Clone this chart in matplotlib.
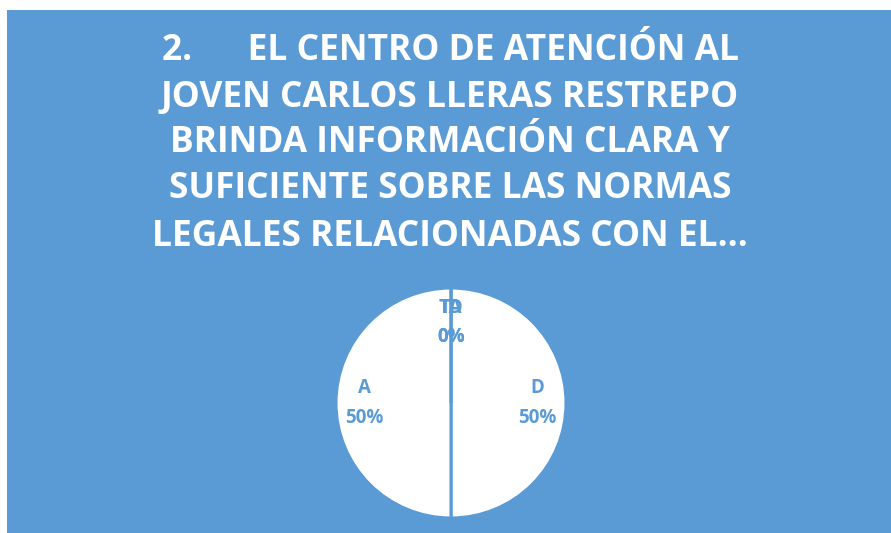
import matplotlib
matplotlib.use("Agg")
import matplotlib.pyplot as plt
from matplotlib.patches import Rectangle
import numpy as np

categories = ["TA", "D", "A", "TD"]
values = [0, 50, 50, 0]
title_lines = [
    "2.      EL CENTRO DE ATENCIÓN AL",
    "JOVEN CARLOS LLERAS RESTREPO",
    "BRINDA INFORMACIÓN CLARA Y",
    "SUFICIENTE SOBRE LAS NORMAS",
    "LEGALES RELACIONADAS CON EL…",
]

BLUE = "#5B9BD5"
W, H = 891, 533
fig = plt.figure(figsize=(W / 100, H / 100), dpi=100, facecolor="white")
fig.patches.append(Rectangle((7 / W, 0), (W - 7) / W, (H - 10) / H,
                             transform=fig.transFigure, facecolor=BLUE,
                             edgecolor="none", zorder=-5))

line_y = [47, 93, 139, 185, 232]
for t, y in zip(title_lines, line_y):
    fig.text(450 / W, 1 - y / H, t, ha="center", va="center_baseline", color="white",
             fontsize=25.5, fontweight="bold", family="Open Sans")

cx, cy, r = 451, 403, 115
ax = fig.add_axes([(cx - r) / W, (H - cy - r) / H, 2 * r / W, 2 * r / H], zorder=2)
ax.patch.set_visible(False)
wedges, _ = ax.pie(values, startangle=90, counterclock=False,
                   colors=["white"] * len(values),
                   wedgeprops=dict(edgecolor=BLUE, linewidth=2.2))
ax.set_xlim(-1, 1)
ax.set_ylim(-1, 1)
ax.set_aspect("equal")
ax.axis("off")
total = sum(values)
for w, cat, v in zip(wedges, categories, values):
    mid = np.deg2rad((w.theta1 + w.theta2) / 2)
    d = 0.75 if v > 0 else 0.70
    ax.text(d * np.cos(mid), d * np.sin(mid), f"{cat}\n{v / total * 100:.0f}%",
            ha="center", va="center", color=BLUE, fontsize=13.5,
            fontweight="bold", family="Open Sans", linespacing=1.65)

fig.savefig("out.png", dpi=100, facecolor="white")
